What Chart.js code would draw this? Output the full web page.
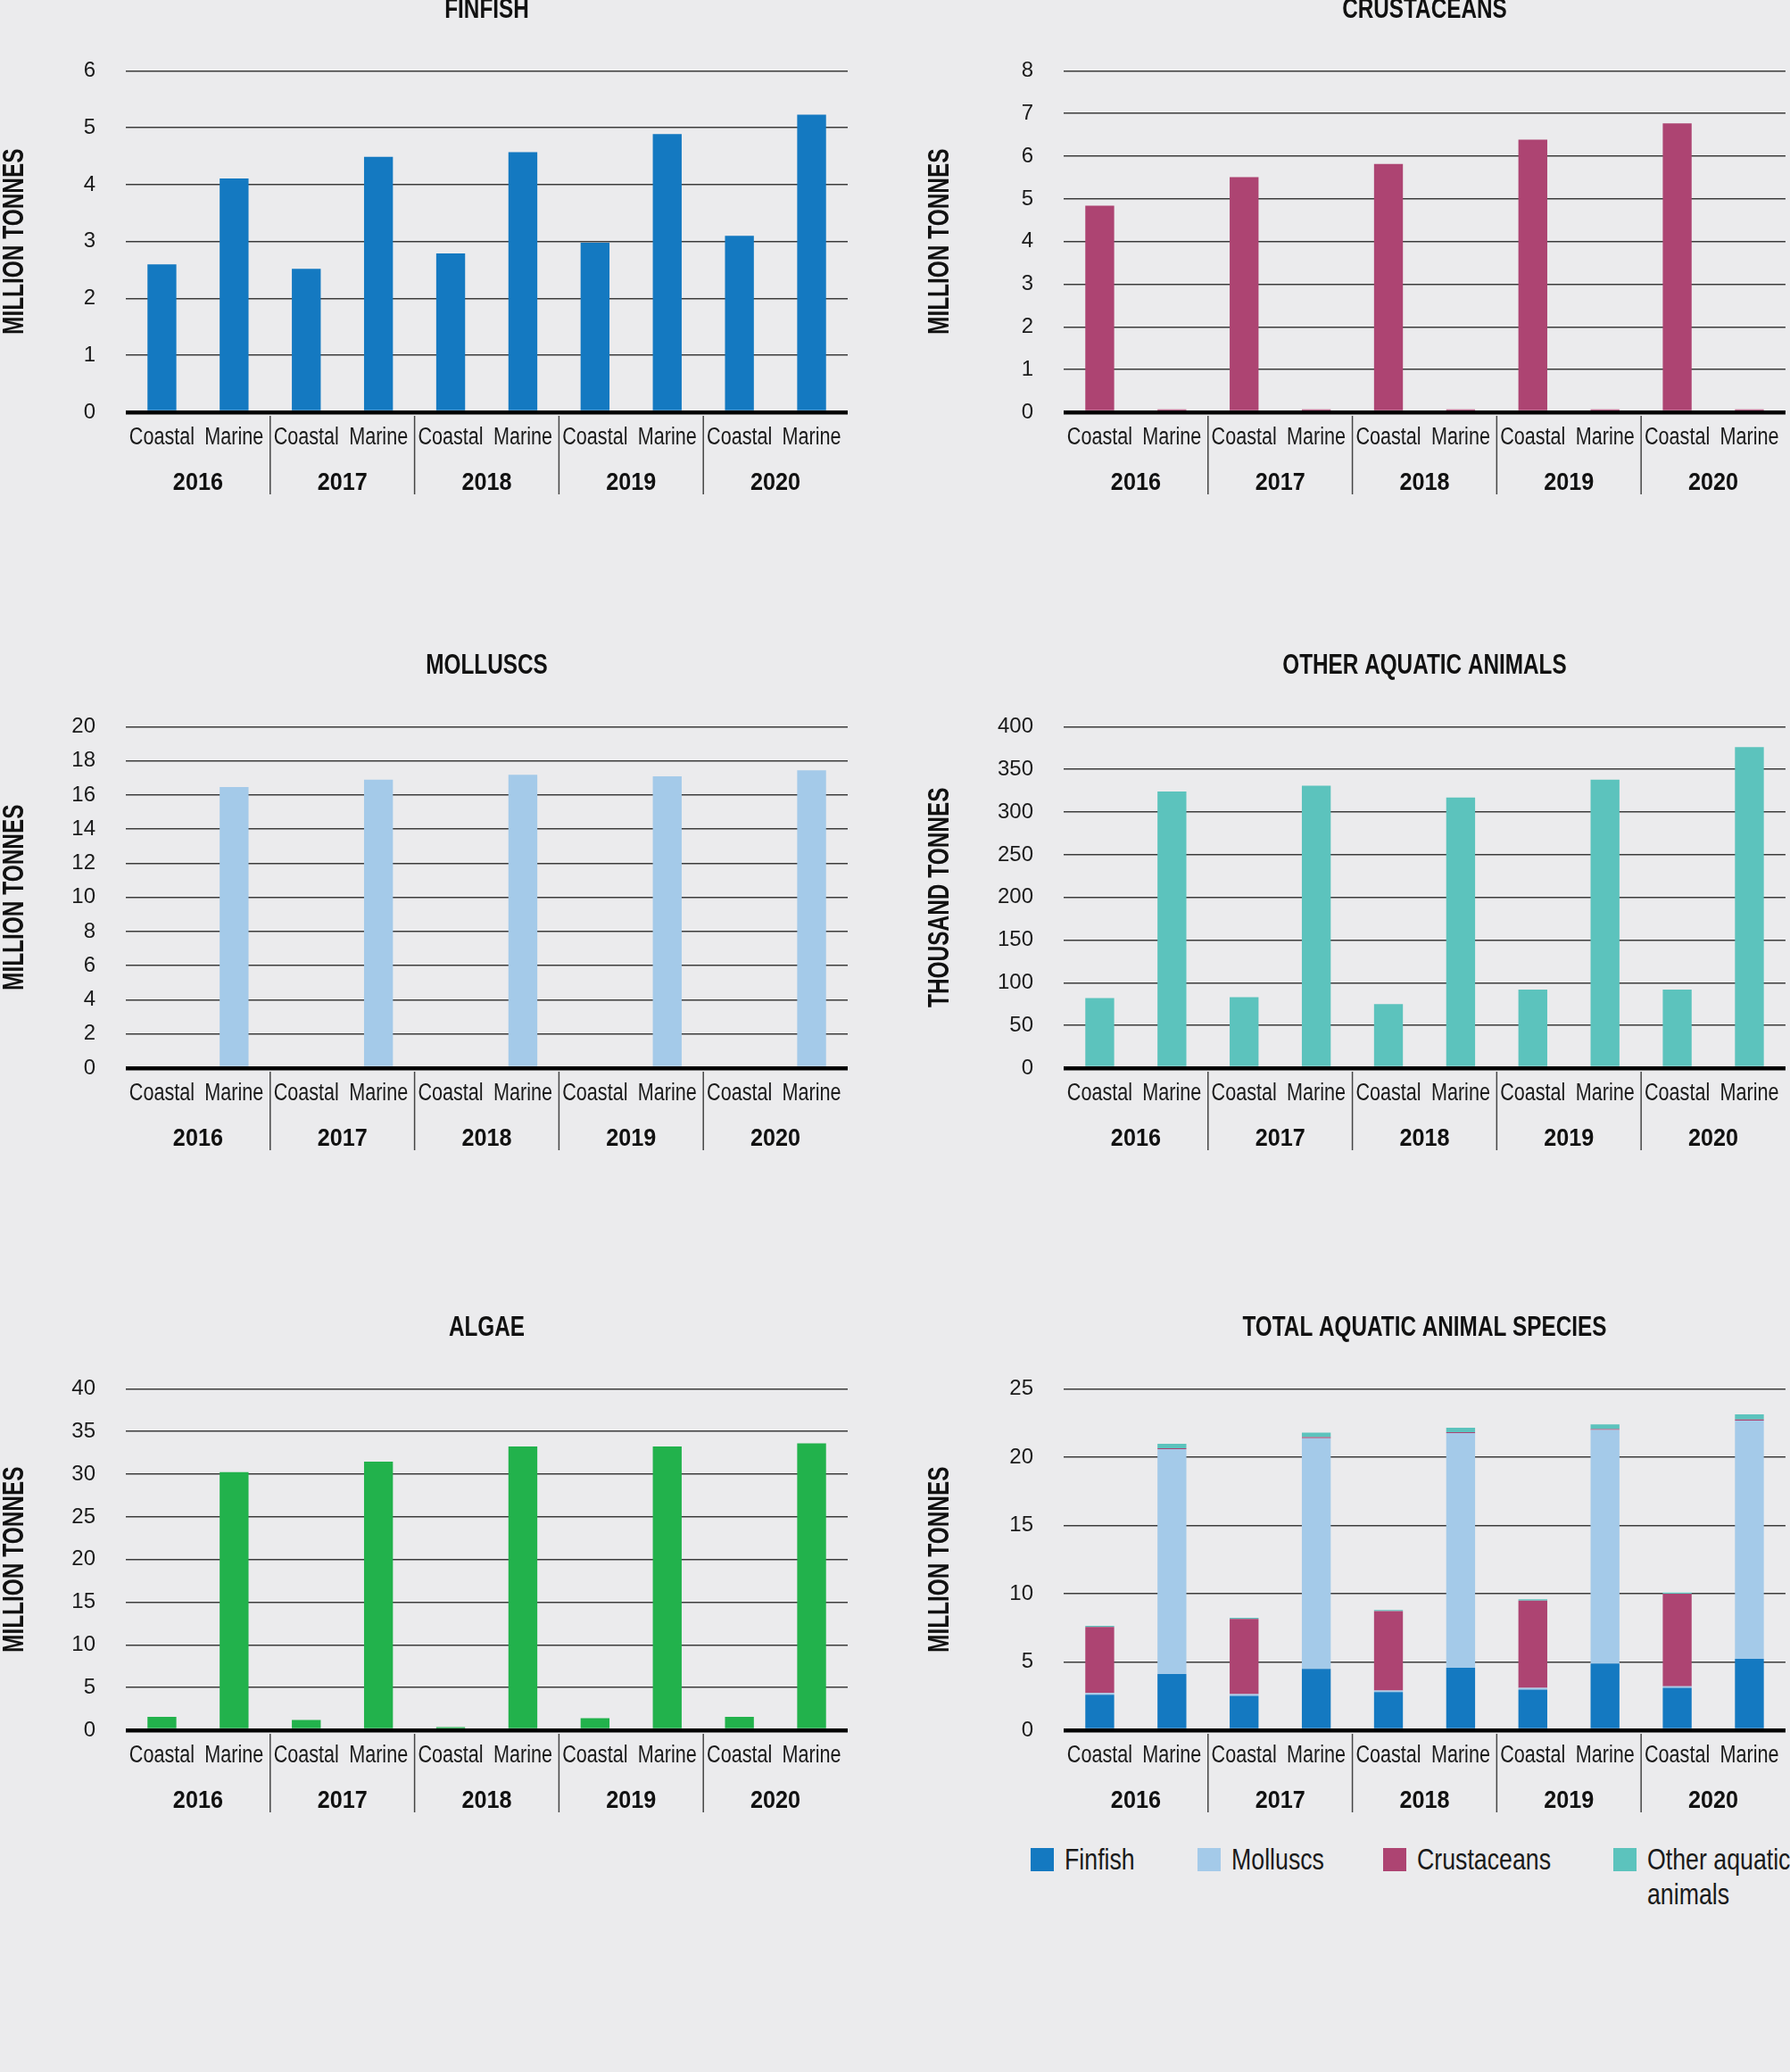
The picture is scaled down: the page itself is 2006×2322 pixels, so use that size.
<!DOCTYPE html>
<html>
<head>
<meta charset="utf-8">
<script src="https://cdn.jsdelivr.net/npm/chart.js@4.4.0/dist/chart.umd.min.js"></script>
<style>
  html, body { margin: 0; padding: 0; background: #ebebed; }
  body { width: 2006px; height: 2322px; position: relative; overflow: hidden; }
  canvas { position: absolute; }
  #legend { position: absolute; left: 0; top: 2064px; width: 2006px; height: 90px;
    font-family: 'Liberation Sans', Arial, sans-serif; font-size: 33px; line-height: 39px; color: #1a1a1a; }
  #legend .item { position: absolute; top: 0; }
  #legend .box { position: absolute; left: 0; top: 7px; width: 26px; height: 26px; }
  #legend .txt { position: absolute; left: 38px; top: 0; width: 212px; transform: scaleX(0.81); transform-origin: left top; }
</style>
</head>
<body>
<canvas id="finfish" width="1003" height="585" style="left:0;top:-8px"></canvas>
<canvas id="crustaceans" width="1003" height="585" style="left:1003px;top:-8px"></canvas>
<canvas id="molluscs" width="1003" height="585" style="left:0;top:727px"></canvas>
<canvas id="other" width="1003" height="585" style="left:1003px;top:727px"></canvas>
<canvas id="algae" width="1003" height="585" style="left:0;top:1469px"></canvas>
<canvas id="total" width="1003" height="585" style="left:1003px;top:1469px"></canvas>
<div id="legend"></div>

<script>
/* datos */
const years = ['2016', '2017', '2018', '2019', '2020'];
const systems = ['Coastal', 'Marine'];

// million tonnes
const finfishCoastal = [2.60, 2.52, 2.79, 2.98, 3.10];
const finfishMarine = [4.11, 4.49, 4.57, 4.89, 5.23];
const crustCoastal = [4.84, 5.51, 5.82, 6.39, 6.77];
const crustMarine = [0.07, 0.07, 0.07, 0.07, 0.07];
const molluscCoastal = [0.12, 0.12, 0.12, 0.12, 0.12];
const molluscMarine = [16.47, 16.90, 17.19, 17.09, 17.45];
// thousand tonnes
const otherCoastal = [82, 83, 75, 92, 92];
const otherMarine = [324, 331, 317, 338, 376];
// million tonnes
const algaeCoastal = [1.56, 1.20, 0.36, 1.40, 1.56];
const algaeMarine = [30.24, 31.48, 33.24, 33.24, 33.60];

const COLORS = {
    finfish: '#1479c1',
    molluscs: '#a4cae9',
    crustaceans: '#ad4472',
    other: '#5cc3bd',
    algae: '#22b24c'
};

/* fuentes: la original es condensada, se comprime en horizontal al dibujar */
const FAMILY = "'Liberation Sans', Arial, sans-serif";
const titleFont = { family: FAMILY, size: 32, weight: 'bold', lineHeight: 1.2 };
const tickFont = { family: FAMILY, size: 27 };
const yearFont = { family: FAMILY, size: 28, weight: 'bold' };
const valueFont = { family: FAMILY, size: 24 };
const axisTitleFont = { family: FAMILY, size: 33, weight: 'bold', lineHeight: 1 };
const SQUEEZE = { 32: 0.76, 27: 0.8, 28: 0.9, 33: 0.74 };

/* Coastal, Marine por cada año */
const barLabels = years.flatMap(() => systems);
const pairUp = (c, m) => c.flatMap((v, i) => [v, m[i]]);

const narrowText = {
    id: 'narrowText',
    beforeInit(chart) {
        const ctx = chart.ctx;
        const fill = ctx.fillText;
        ctx.fillText = function (text, x, y, maxWidth) {
            const size = parseInt((this.font.match(/(\d+)px/) || [])[1], 10);
            const k = SQUEEZE[size];
            if (!k) return fill.call(this, text, x, y, maxWidth);
            this.save();
            this.translate(x, y);
            this.scale(k, 1);
            fill.call(this, text, 0, 0);
            this.restore();
        };
    }
};

/* lineas verticales entre años, debajo del eje */
const yearDividers = {
    id: 'yearDividers',
    afterDraw(chart) {
        const x = chart.scales.x;
        const ctx = chart.ctx;
        const bottom = chart.chartArea.bottom;
        ctx.save();
        ctx.strokeStyle = '#444';
        ctx.lineWidth = 1.5;
        for (let i = 2; i < barLabels.length; i += 2) {
            const px = (x.getPixelForTick(i - 1) + x.getPixelForTick(i)) / 2;
            ctx.beginPath();
            ctx.moveTo(px, bottom + 4);
            ctx.lineTo(px, bottom + 92);
            ctx.stroke();
        }
        ctx.restore();
    }
};

let makeChart = (id, title, yTitle, max, step, datasets, side, stacked) => {
    const right = side === 'right';
    return new Chart(document.getElementById(id), {
        type: 'bar',
        data: { labels: barLabels, datasets: datasets },
        plugins: [narrowText, yearDividers],
        options: {
            responsive: false,
            animation: false,
            layout: { padding: { left: 0, right: right ? 5 : 53, top: 0, bottom: 0 } },
            datasets: { bar: { barPercentage: 0.4, categoryPercentage: 1, borderWidth: 0 } },
            plugins: {
                legend: { display: false },
                tooltip: { enabled: false },
                title: {
                    display: true, text: title, color: '#111', fullSize: false,
                    font: titleFont,
                    padding: { top: 0, bottom: 49 }
                }
            },
            scales: {
                x: {
                    type: 'category', stacked: stacked, offset: true, weight: 0,
                    border: { display: false }, grid: { display: false },
                    ticks: { color: '#1a1a1a', font: tickFont, padding: 4, maxRotation: 0, autoSkip: false },
                    afterFit: s => { s.height = 50; }
                },
                year: {
                    type: 'category', position: 'bottom', labels: years, offset: true, weight: 1,
                    border: { display: false }, grid: { display: false },
                    ticks: { color: '#111', font: yearFont, padding: 4, maxRotation: 0 },
                    afterFit: s => { s.height = 65; }
                },
                y: {
                    stacked: stacked, min: 0, max: max,
                    border: { display: false },
                    ticks: { stepSize: step, color: '#1a1a1a', font: valueFont, padding: 34 },
                    grid: {
                        drawTicks: false,
                        color: c => c.tick.value === 0 ? '#000' : '#3c3c3c',
                        lineWidth: c => c.tick.value === 0 ? 4.5 : 1.5
                    },
                    title: {
                        display: true, text: yTitle, color: '#111',
                        font: axisTitleFont,
                        padding: { top: right ? 34 : 0, bottom: 0 }
                    },
                    afterFit: s => { s.width = right ? 189 : 141; }
                }
            }
        }
    });
};

const single = (label, data, color) => [{ label: label, data: data, backgroundColor: color }];

makeChart('finfish', 'FINFISH', 'MILLION TONNES', 6, 1,
    single('Finfish', pairUp(finfishCoastal, finfishMarine), COLORS.finfish), 'left', false);
makeChart('crustaceans', 'CRUSTACEANS', 'MILLION TONNES', 8, 1,
    single('Crustaceans', pairUp(crustCoastal, crustMarine), COLORS.crustaceans), 'right', false);
makeChart('molluscs', 'MOLLUSCS', 'MILLION TONNES', 20, 2,
    single('Molluscs', pairUp(molluscCoastal, molluscMarine), COLORS.molluscs), 'left', false);
makeChart('other', 'OTHER AQUATIC ANIMALS', 'THOUSAND TONNES', 400, 50,
    single('Other aquatic animals', pairUp(otherCoastal, otherMarine), COLORS.other), 'right', false);
makeChart('algae', 'ALGAE', 'MILLION TONNES', 40, 5,
    single('Algae', pairUp(algaeCoastal, algaeMarine), COLORS.algae), 'left', false);

/* total apilado: otros pasan de miles a millones */
const totalChart = makeChart('total', 'TOTAL AQUATIC ANIMAL SPECIES', 'MILLION TONNES', 25, 5, [
    { label: 'Finfish', data: pairUp(finfishCoastal, finfishMarine), backgroundColor: COLORS.finfish },
    { label: 'Molluscs', data: pairUp(molluscCoastal, molluscMarine), backgroundColor: COLORS.molluscs },
    { label: 'Crustaceans', data: pairUp(crustCoastal, crustMarine), backgroundColor: COLORS.crustaceans },
    { label: 'Other aquatic animals', data: pairUp(otherCoastal, otherMarine).map(v => v / 1000), backgroundColor: COLORS.other }
], 'right', true);

/* leyenda html del grafico total */
const legendX = [1155, 1342, 1550, 1808];
const legendHTML = document.getElementById('legend');
totalChart.options.plugins.legend.labels.generateLabels(totalChart).forEach((item, i) => {
    const div = document.createElement('div');
    div.className = 'item';
    div.style.left = legendX[i] + 'px';
    const box = document.createElement('span');
    box.className = 'box';
    box.style.background = item.fillStyle;
    const txt = document.createElement('span');
    txt.className = 'txt';
    txt.textContent = item.text;
    div.appendChild(box);
    div.appendChild(txt);
    legendHTML.appendChild(div);
});
</script>
</body>
</html>
